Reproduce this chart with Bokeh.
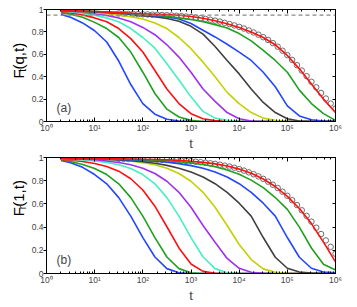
from math import pi
from bokeh.plotting import figure
from bokeh.layouts import column, row
from bokeh.models import (Range1d, LinearAxis, LogAxis, FixedTicker, LogTicker,
                          Span, Label, CustomJSTickFormatter)
from bokeh.core.properties import value
from bokeh.embed import file_html
from bokeh.resources import INLINE

# ---------------- data ----------------
t_grid = [2, 3.16, 5.62, 10, 17.8, 31.6, 56.2, 100, 178, 316, 562, 1000, 1778,
          3162, 5623, 10000, 17783, 31623, 56234, 100000, 177828, 316228,
          562341, 1000000]

# panel (a): F_t(q,t)
a_c1 = [0.955, 0.93, 0.88, 0.81, 0.71, 0.54, 0.33, 0.16, 0.065, 0.02, 0.005, 0.0,
        0, 0, 0, 0, 0, 0, 0, 0, 0, 0, 0, 0]
a_c2 = [0.97, 0.958, 0.93, 0.885, 0.83, 0.75, 0.62, 0.44, 0.25, 0.11, 0.04, 0.01,
        0.0, 0, 0, 0, 0, 0, 0, 0, 0, 0, 0, 0]
a_c3 = [0.98, 0.97, 0.952, 0.925, 0.89, 0.83, 0.74, 0.62, 0.455, 0.29, 0.16, 0.07,
        0.025, 0.008, 0.0, 0, 0, 0, 0, 0, 0, 0, 0, 0]
a_c4 = [0.985, 0.978, 0.967, 0.95, 0.925, 0.89, 0.83, 0.75, 0.655, 0.515, 0.37, 0.22,
        0.09, 0.03, 0.01, 0.0, 0, 0, 0, 0, 0, 0, 0, 0]
a_c5 = [0.988, 0.984, 0.975, 0.963, 0.947, 0.925, 0.89, 0.84, 0.775, 0.685, 0.575, 0.44,
        0.29, 0.18, 0.08, 0.025, 0.005, 0.0, 0, 0, 0, 0, 0, 0]
a_c6 = [0.99, 0.986, 0.98, 0.972, 0.962, 0.95, 0.935, 0.915, 0.88, 0.83, 0.75, 0.65,
        0.53, 0.40, 0.26, 0.16, 0.08, 0.03, 0.01, 0.0, 0, 0, 0, 0]
a_c7 = [0.99, 0.987, 0.983, 0.978, 0.972, 0.965, 0.956, 0.945, 0.935, 0.92, 0.895, 0.85,
        0.78, 0.67, 0.545, 0.425, 0.29, 0.17, 0.08, 0.025, 0.005, 0.0, 0.0, 0.0]
a_c8 = [0.99, 0.988, 0.985, 0.98, 0.975, 0.97, 0.962, 0.952, 0.945, 0.935, 0.915, 0.875,
        0.815, 0.755, 0.69, 0.62, 0.545, 0.44, 0.31, 0.14, 0.05, 0.015, 0.005, 0.0]
a_c9 = [0.992, 0.99, 0.987, 0.983, 0.978, 0.972, 0.965, 0.957, 0.95, 0.94, 0.925, 0.91,
        0.89, 0.865, 0.835, 0.785, 0.72, 0.635, 0.545, 0.44, 0.28, 0.16, 0.07, 0.01]
a_c10 = [0.993, 0.99, 0.986, 0.982, 0.977, 0.972, 0.967, 0.962, 0.958, 0.954, 0.948, 0.938,
         0.922, 0.90, 0.872, 0.84, 0.80, 0.75, 0.685, 0.59, 0.47, 0.335, 0.20, 0.08]

# panel (b): F_r(1,t)
b_c1 = [0.975, 0.955, 0.915, 0.853, 0.773, 0.654, 0.495, 0.309, 0.142, 0.042, 0.007, 0.0,
        0, 0, 0, 0, 0, 0, 0, 0, 0, 0, 0, 0]
b_c2 = [0.978, 0.965, 0.94, 0.905, 0.853, 0.773, 0.654, 0.495, 0.309, 0.142, 0.042, 0.007,
        0.0, 0, 0, 0, 0, 0, 0, 0, 0, 0, 0, 0]
b_c3 = [0.982, 0.977, 0.966, 0.948, 0.923, 0.882, 0.817, 0.72, 0.58, 0.403, 0.22, 0.082,
        0.018, 0.002, 0.0, 0, 0, 0, 0, 0, 0, 0, 0, 0]
b_c4 = [0.985, 0.983, 0.978, 0.97, 0.958, 0.938, 0.905, 0.853, 0.773, 0.654, 0.495, 0.309,
        0.142, 0.042, 0.007, 0.0, 0, 0, 0, 0, 0, 0, 0, 0]
b_c5 = [0.988, 0.987, 0.985, 0.98, 0.97, 0.957, 0.937, 0.907, 0.862, 0.795, 0.70, 0.571,
        0.414, 0.27, 0.13, 0.045, 0.01, 0.002, 0.0, 0, 0, 0, 0, 0]
b_c6 = [0.99, 0.99, 0.989, 0.988, 0.985, 0.98, 0.97, 0.955, 0.937, 0.907, 0.862, 0.795,
        0.70, 0.571, 0.414, 0.25, 0.12, 0.04, 0.01, 0.002, 0.0, 0, 0, 0]
b_c7 = [0.991, 0.99, 0.989, 0.987, 0.984, 0.979, 0.972, 0.963, 0.95, 0.932, 0.907, 0.875,
        0.832, 0.774, 0.70, 0.606, 0.495, 0.31, 0.14, 0.045, 0.012, 0.003, 0.0, 0.0]
b_c8 = [0.992, 0.991, 0.99, 0.988, 0.986, 0.983, 0.979, 0.975, 0.968, 0.96, 0.947, 0.93,
        0.907, 0.875, 0.832, 0.774, 0.70, 0.606, 0.495, 0.31, 0.14, 0.045, 0.012, 0.005]
b_c9 = [0.993, 0.992, 0.991, 0.99, 0.988, 0.986, 0.984, 0.981, 0.977, 0.972, 0.964, 0.954,
        0.94, 0.92, 0.892, 0.855, 0.805, 0.74, 0.655, 0.553, 0.40, 0.22, 0.08, 0.03]
b_c10 = [0.994, 0.993, 0.992, 0.991, 0.99, 0.989, 0.987, 0.985, 0.983, 0.98, 0.975, 0.968,
         0.958, 0.945, 0.926, 0.90, 0.865, 0.815, 0.75, 0.665, 0.56, 0.43, 0.27, 0.10]

# open circles (reference data), sampled every 0.1 decade
t_circ = [31.6, 39.8, 50.1, 63.1, 79.4, 100, 126, 158, 200, 251, 316, 398, 501, 631, 794,
          1000, 1259, 1585, 1995, 2512, 3162, 3981, 5012, 6310, 7943, 10000, 12589, 15849,
          19953, 25119, 31623, 39811, 50119, 63096, 79433, 100000, 125893, 158489, 199526,
          251189, 316228, 398107, 501187, 630957, 794328, 1000000]
a_circ = [0.965, 0.963, 0.961, 0.96, 0.958, 0.957, 0.956, 0.954, 0.953, 0.951, 0.949, 0.947,
          0.944, 0.941, 0.937, 0.933, 0.928, 0.922, 0.916, 0.909, 0.901, 0.892, 0.881, 0.87,
          0.858, 0.845, 0.83, 0.813, 0.795, 0.775, 0.753, 0.728, 0.70, 0.668, 0.632, 0.593,
          0.55, 0.503, 0.455, 0.405, 0.355, 0.305, 0.255, 0.205, 0.16, 0.115]
b_circ = [0.989, 0.988, 0.987, 0.987, 0.986, 0.985, 0.984, 0.983, 0.982, 0.981, 0.98, 0.978,
          0.976, 0.974, 0.971, 0.968, 0.964, 0.96, 0.955, 0.95, 0.945, 0.938, 0.93, 0.922,
          0.912, 0.90, 0.887, 0.872, 0.856, 0.837, 0.816, 0.792, 0.765, 0.737, 0.705, 0.67,
          0.632, 0.59, 0.545, 0.497, 0.447, 0.395, 0.34, 0.285, 0.23, 0.17]

plateau_level = 0.95
y_ticks = [0, 0.2, 0.4, 0.6, 0.8, 1.0]

# y-axis titles: main letter, subscript, argument
a_title = ("F", "t", "(q,t)")
b_title = ("F", "r", "(1,t)")

colors = ["#2346ff", "#1fa01f", "#ff1010", "#45f0c0", "#a030f0",
          "#c4d000", "#404040", "#2346ff", "#1fa01f", "#ff1010"]

FONT = "Liberation Sans"
LAB_W = 28

sup_fmt = CustomJSTickFormatter(code="""
const e = Math.round(Math.log10(tick));
const s = ['\u2070','\u00b9','\u00b2','\u00b3','\u2074','\u2075','\u2076','\u2077','\u2078','\u2079'];
return '10' + String(e).split('').map(c => s[+c]).join('');
""")
y_fmt = CustomJSTickFormatter(code="""
if (Math.abs(tick) < 1e-9) return '0';
if (Math.abs(tick - 1) < 1e-9) return '1';
return tick.toFixed(1);
""")
blank_fmt = CustomJSTickFormatter(code="return '';")


def title_fig(height, title, y_base):
    """Narrow strip holding the rotated y-axis title (screen-pixel coordinates)."""
    f = figure(width=LAB_W, height=height, x_range=Range1d(0, LAB_W),
               y_range=Range1d(0, height), output_backend="svg",
               toolbar_location=None, x_axis_location=None, y_axis_location=None,
               min_border=0, min_border_left=0, min_border_right=0,
               min_border_top=0, min_border_bottom=0)
    f.grid.visible = False
    f.outline_line_color = None
    main, sub, rest = title
    f.text(x=[18], y=[y_base], text=[main], angle=pi / 2, text_font=value(FONT),
           text_font_size=value("15px"), text_baseline="middle", text_align="left",
           text_color="black")
    f.text(x=[21.5], y=[y_base + 9.3], text=[sub], angle=pi / 2, text_font=value(FONT),
           text_font_size=value("10px"), text_baseline="middle", text_align="left",
           text_color="black")
    f.text(x=[18], y=[y_base + 12.5], text=[rest], angle=pi / 2, text_font=value(FONT),
           text_font_size=value("15px"), text_baseline="middle", text_align="left",
           text_color="black")
    return f


def make_panel(series, circ, height, top, bottom, tag, dashed):
    p = figure(width=356 - LAB_W, height=height, x_axis_type="log",
               x_range=Range1d(1, 1e6), y_range=Range1d(0, 1),
               output_backend="svg", toolbar_location=None,
               min_border_left=45 - LAB_W, min_border_right=21,
               min_border_top=top, min_border_bottom=bottom)
    p.grid.visible = False
    p.outline_line_color = "black"
    p.outline_line_width = 1

    xa = p.xaxis[0]
    xa.formatter = sup_fmt
    xa.major_tick_in, xa.major_tick_out = 4, 0
    xa.minor_tick_in, xa.minor_tick_out = 2, 0
    xa.major_label_standoff = 1
    xa.major_label_text_font = FONT
    xa.major_label_text_font_size = "8.5px"
    xa.axis_label = "t"
    xa.axis_label_text_font = FONT
    xa.axis_label_text_font_style = "normal"
    xa.axis_label_text_font_size = "13px"
    xa.axis_label_standoff = 0

    ya = p.yaxis[0]
    ya.ticker = FixedTicker(ticks=y_ticks)
    ya.formatter = y_fmt
    ya.major_tick_in, ya.major_tick_out = 0, 3
    ya.minor_tick_line_color = None
    ya.major_label_standoff = 0
    ya.major_label_text_font = FONT
    ya.major_label_text_font_size = "8.5px"

    ta = LogAxis(ticker=LogTicker(), formatter=blank_fmt,
                 major_tick_in=4, major_tick_out=0, minor_tick_in=2, minor_tick_out=0,
                 major_label_standoff=0, major_label_text_font_size="0px")
    p.add_layout(ta, "above")
    ra = LinearAxis(ticker=FixedTicker(ticks=y_ticks), formatter=blank_fmt,
                    major_tick_in=3, major_tick_out=0, minor_tick_line_color=None,
                    major_label_standoff=0, major_label_text_font_size="0px")
    p.add_layout(ra, "right")

    if dashed is not None:
        p.add_layout(Span(location=dashed, dimension="width", line_color="#888888",
                          line_dash="4 3", line_width=1.2))

    p.scatter(t_circ, circ, marker="circle", size=5.5, fill_color=None,
              line_color="#5e5e5e", line_width=0.9)
    for vals, c in zip(series, colors):
        p.line(t_grid, vals, line_color=c, line_width=1.6)

    p.add_layout(Label(x=10, y=14, x_units="screen", y_units="screen", text=tag,
                       text_font=FONT, text_font_size="12px", text_baseline="middle"))
    return p


pa = make_panel([a_c1, a_c2, a_c3, a_c4, a_c5, a_c6, a_c7, a_c8, a_c9, a_c10],
                a_circ, 154, 9, 33, "(a)", plateau_level)
pb = make_panel([b_c1, b_c2, b_c3, b_c4, b_c5, b_c6, b_c7, b_c8, b_c9, b_c10],
                b_circ, 152, 3, 33, "(b)", None)
la = title_fig(154, a_title, 59)
lb = title_fig(152, b_title, 75)

layout = column(row(la, pa, spacing=0), row(lb, pb, spacing=0), spacing=0)
open("out.html", "w").write(file_html(layout, INLINE))
